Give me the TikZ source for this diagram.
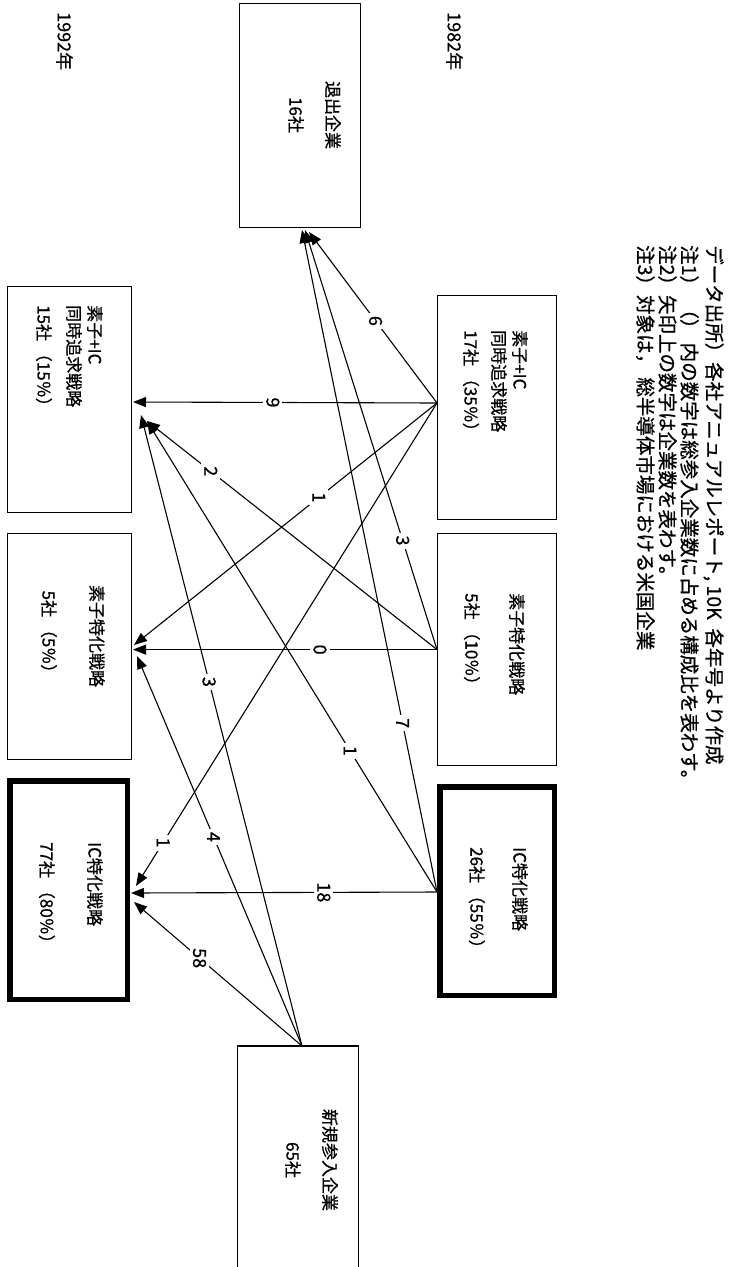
\documentclass[tikz,border=0pt]{standalone}
\usepackage{fontspec}
\newfontfamily\jp[FakeBold=0.8]{Noto Sans CJK JP}
\usetikzlibrary{arrows.meta}
\begin{document}
\begin{tikzpicture}[x=1pt,y=-1pt,
  thinbox/.style={draw, line width=1.3pt, inner sep=0pt},
  thickbox/.style={draw, line width=5.5pt, inner sep=0pt},
  txt/.style={rotate=-90, inner sep=0pt, font=\jp\fontsize{17}{21}\selectfont},
  notetxt/.style={rotate=-90, inner sep=0pt, font=\jp\fontsize{19.5}{22}\selectfont},
  lbl/.style={fill=white, rotate=-90, inner sep=3pt, font=\jp\fontsize{18}{18}\selectfont},
  arr/.style={line width=1.1pt, -{Triangle[length=13pt,width=10pt]}}]
\useasboundingbox (0,0) rectangle (732,1267);
% boxes 1982
\node[thinbox, minimum width=119pt, minimum height=224pt] (R1) at (497,407.5) {};
\node[thinbox, minimum width=119pt, minimum height=232pt] (R2) at (497,649.5) {};
\node[thickbox, minimum width=114.5pt, minimum height=208.5pt] (R3) at (497,891) {};
% boxes 1992
\node[thinbox, minimum width=124pt, minimum height=226pt] (L1) at (69.5,399.5) {};
\node[thinbox, minimum width=124pt, minimum height=226pt] (L2) at (69.5,646.5) {};
\node[thickbox, minimum width=117.5pt, minimum height=218.5pt] (L3) at (68.5,890) {};
% exit / new
\node[thinbox, minimum width=121pt, minimum height=224pt] (EX) at (300,115.5) {};
\node[thinbox, minimum width=121pt, minimum height=240pt] (NW) at (298,1166) {};
% texts
\node[txt, anchor=north west, align=left] (tR1) at (528,330) {素子+IC\\同時追求戦略\\[7pt]17社 （35％）};
\node[txt, anchor=north west, align=left] (tR2) at (525,593) {素子特化戦略\\[24pt]5社 （10％）};
\node[txt, anchor=north west, align=left] (tR3) at (528,847) {IC特化戦略\\[22pt]26社 （55％）};
\node[txt, anchor=north west, align=left] (tL1) at (103,305) {素子+IC\\同時追求戦略\\[9pt]15社 （15％）};
\node[txt, anchor=north, align=center] (tL2) at (105,636) {素子特化戦略\\[27pt]5社 （5％）};
\node[txt, anchor=north west, align=left] (tL3) at (103,842) {IC特化戦略\\[27pt]77社 （80％）};
\node[txt, anchor=north, align=center] (tEX) at (341,115) {退出企業\\[16pt]16社};
\node[txt, anchor=north, align=center] (tNW) at (338,1160) {新規参入企業\\[16pt]65社};
\node[txt, anchor=north west, font=\jp\fontsize{18}{21}\selectfont] (y92) at (73,12) {1992年};
\node[txt, anchor=north west, font=\jp\fontsize{18}{21}\selectfont] (y82) at (463,12) {1982年};
\node[notetxt, anchor=north west, align=left] (notes) at (724,245) {データ出所）各社アニュアルレポート, 10K\ \ 各年号より作成\\[3pt]注1）\ （）\ 内の数字は総参入企業数に占める構成比を表わす。\\注2）矢印上の数字は企業数を表わす。\\注3）対象は，\ 総半導体市場における米国企業};
% connector end points
\coordinate (sR1) at (437,403);
\coordinate (sR2) at (437,649.6);
\coordinate (sR3) at (437,892);
\coordinate (sN) at (302,1046);
\coordinate (tL1a) at (133,402);
\coordinate (tL1b) at (147,421);
\coordinate (tL1c) at (141,415);
\coordinate (tL2a) at (134,645);
\coordinate (tL2b) at (133,649.6);
\coordinate (tL2c) at (137,656);
\coordinate (tL3a) at (136,886);
\coordinate (tL3b) at (131,893);
\coordinate (tL3c) at (134,902);
\coordinate (tEa) at (309,232);
\coordinate (tEb) at (305,230);
\coordinate (tEc) at (302,230);
% connectors
\draw[arr] (sR1) -- node[lbl, pos=.54] (n9) {9} (tL1a);
\draw[arr] (sR1) -- node[lbl, pos=.48] (n6) {6} (tEa);
\draw[arr] (sR1) -- node[lbl, pos=.39] (n1a) {1} (tL2a);
\draw[arr] (sR1) -- node[lbl, pos=.91] (n1b) {1} (tL3a);
\draw[arr] (sR2) -- node[lbl, pos=.385] (n0) {0} (tL2b);
\draw[arr] (sR2) -- node[lbl, pos=.78] (n2) {2} (tL1b);
\draw[arr] (sR2) -- node[lbl, pos=.26] (n3a) {3} (tEb);
\draw[arr] (sR3) -- node[lbl, pos=.37] (n18) {18} (tL3b);
\draw[arr] (sR3) -- node[lbl, pos=.30] (n1c) {1} (tL1b);
\draw[arr] (sR3) -- node[lbl, pos=.255] (n7) {7} (tEc);
\draw[arr] (sN) -- node[lbl, pos=.61] (n58) {58} (tL3c);
\draw[arr] (sN) -- node[lbl, pos=.536] (n4) {4} (tL2c);
\draw[arr] (sN) -- node[lbl, pos=.577] (n3b) {3} (tL1c);
\end{tikzpicture}
\end{document}
